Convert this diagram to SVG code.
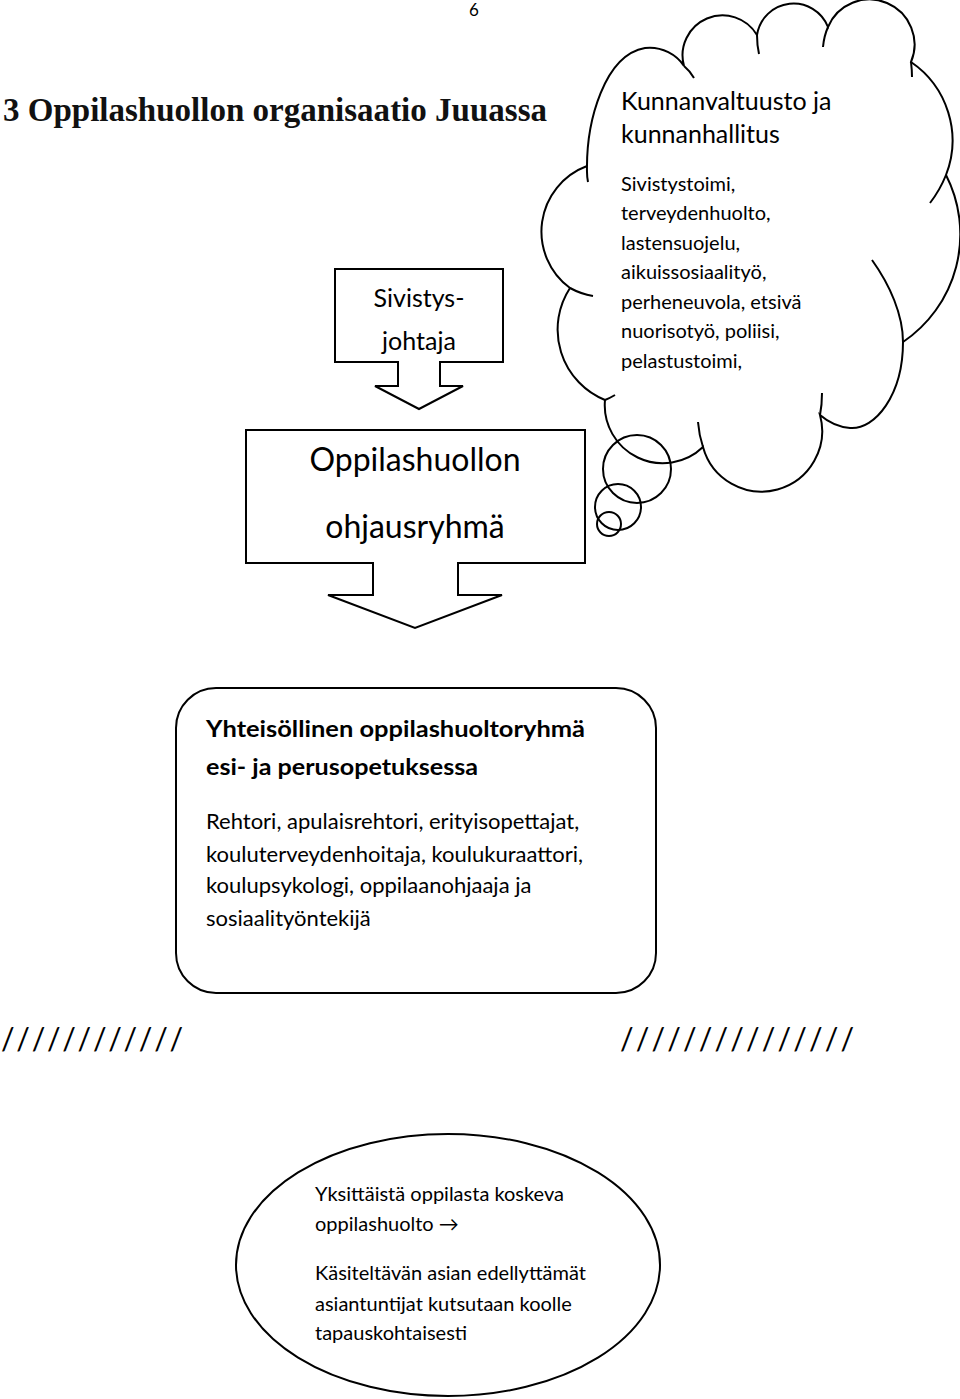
<svg xmlns="http://www.w3.org/2000/svg" width="960" height="1399" viewBox="0 0 960 1399">
<style>
.ln{fill:none;stroke:#000;stroke-width:2;stroke-linejoin:miter}
.box{fill:#fff;stroke:#000;stroke-width:2}
.t{font-family:Lato,"Liberation Sans",sans-serif;fill:#000}
.b{font-weight:bold}
.title{font-family:"Liberation Serif",serif;font-weight:bold;fill:#111}
</style>
<rect width="960" height="1399" fill="#fff"/>
<text class="t" x="469" y="16" font-size="17">6</text>
<text class="title" x="3" y="121" font-size="33" textLength="544" lengthAdjust="spacingAndGlyphs">3 Oppilashuollon organisaatio Juuassa</text>

<g id="connectors">
</g>

<g id="cloud">
<path class="ln" d="M587,172 C586,120 605,55 645,48 C662,46 677,55 684,66 A40,40 0 0 1 757,35 A37,37 0 0 1 828,27 A45,45 0 0 1 911,62 A95,95 0 0 1 946,175 A130,130 0 0 1 903,342 C903,395 875,430 850,428 C838,427 827,421 820,415 A59,59 0 0 1 703,447 A58,58 0 0 1 605,400 A76,76 0 0 1 570,288 A70,70 0 0 1 587,166"/>
<path class="ln" d="M587,172 Q587,177 588,182 M684,66 Q690,71 694,78 M757,35 Q757,45 759,54 M828,27 Q824,36 823,47 M911,62 Q912,70 912,77 M946,175 Q940,190 930,203 M903,342 C903,315 890,285 872,260 M820,415 Q822,405 822,393 M703,447 Q699,435 698,422 M605,400 Q610,398 615,395 M570,288 Q581,294 593,296"/>
<circle class="ln" cx="637" cy="469" r="34"/>
<circle class="ln" cx="618" cy="507" r="23"/>
<circle class="ln" cx="609" cy="524" r="12"/>
<text class="t" font-size="25"><tspan x="621" y="110">Kunnanvaltuusto ja</tspan><tspan x="621" y="143">kunnanhallitus</tspan></text>
<text class="t" font-size="20"><tspan x="621" y="191">Sivistystoimi,</tspan><tspan x="621" y="220">terveydenhuolto,</tspan><tspan x="621" y="250">lastensuojelu,</tspan><tspan x="621" y="279">aikuissosiaalityö,</tspan><tspan x="621" y="309">perheneuvola, etsivä</tspan><tspan x="621" y="338">nuorisotyö, poliisi,</tspan><tspan x="621" y="368">pelastustoimi,</tspan></text>
</g>

<g id="sivistysjohtaja">
<path class="box" d="M335,269 H503 V362 H440 V386 H463 L419,409 L375,386 H398 V362 H335 Z"/>
<text class="t" font-size="25" text-anchor="middle"><tspan x="419" y="307">Sivistys-</tspan><tspan x="419" y="350">johtaja</tspan></text>
</g>

<g id="ohjausryhma">
<path class="box" d="M246,430 H585 V563 H458 V595 H502 L415,628 L328,595 H373 V563 H246 Z"/>
<text class="t" font-size="32" text-anchor="middle"><tspan x="415" y="471">Oppilashuollon</tspan><tspan x="415" y="538">ohjausryhmä</tspan></text>
</g>

<g id="yhteisollinen">
<rect class="box" x="176" y="688" width="480" height="305" rx="40" ry="40"/>
<text class="t b" x="206" y="737" font-size="23.5" textLength="379" lengthAdjust="spacingAndGlyphs">Yhteisöllinen oppilashuoltoryhmä</text>
<text class="t b" x="206" y="775" font-size="23.5" textLength="272" lengthAdjust="spacingAndGlyphs">esi- ja perusopetuksessa</text>
<text class="t" font-size="22"><tspan x="206" y="829">Rehtori, apulaisrehtori, erityisopettajat,</tspan><tspan x="206" y="862">kouluterveydenhoitaja, koulukuraattori,</tspan><tspan x="206" y="893">koulupsykologi, oppilaanohjaaja ja</tspan><tspan x="206" y="926">sosiaalityöntekijä</tspan></text>
</g>

<g id="slashes">
<text class="t" x="1" y="1050" font-size="30" textLength="182">////////////</text>
<text class="t" x="620" y="1050" font-size="30" textLength="234">///////////////</text>
</g>

<g id="yksittainen">
<ellipse class="box" cx="448" cy="1265" rx="212" ry="131"/>
<text class="t" font-size="20"><tspan x="315" y="1201">Yksittäistä oppilasta koskeva</tspan><tspan x="315" y="1231">oppilashuolto →</tspan><tspan x="315" y="1280">Käsiteltävän asian edellyttämät</tspan><tspan x="315" y="1311">asiantuntijat kutsutaan koolle</tspan><tspan x="315" y="1340">tapauskohtaisesti</tspan></text>
</g>
</svg>
